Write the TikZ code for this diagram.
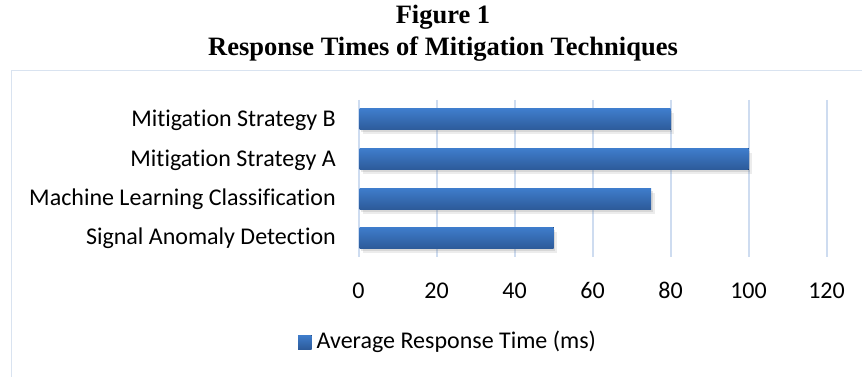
\documentclass[tikz,border=0pt]{standalone}
\usepackage{fontspec}
\setmainfont{Liberation Serif}
\newfontfamily\carlito[Ligatures=NoCommon]{Carlito}
\usepackage{xcolor}
\usetikzlibrary{shadows}
\definecolor{barTop}{HTML}{3F7DCC}
\definecolor{barBot}{HTML}{2D5B9A}
\definecolor{gridBlue}{HTML}{CEDCF0}
\definecolor{frameBlue}{HTML}{D9E3F0}

\begin{document}
\begin{tikzpicture}[x=1pt,y=-1pt,
  lbl/.style={font=\carlito\fontsize{24}{28}\selectfont,inner sep=0pt},
  ttl/.style={font=\bfseries\fontsize{26.5}{30}\selectfont,inner sep=0pt,anchor=base},
  bar/.style={top color=barTop,bottom color=barBot,
    drop shadow={opacity=0.15,shadow xshift=3.5pt,shadow yshift=-4.5pt},
    drop shadow={opacity=0.2,shadow xshift=1.5pt,shadow yshift=-2.5pt}}]
  \useasboundingbox (0,0) rectangle (862,377);
  \clip (0,0) rectangle (862,377);
  \draw[frameBlue,line width=1.5pt] (11.5,70.5) rectangle (890,400);
  % title
  \node[ttl] (fig) at (443,23.5) {Figure 1};
  \node[ttl] (head) at (443,56) {Response Times of Mitigation Techniques};
  % grid and ticks
  \foreach \v in {0,20,...,120} {
    \draw[gridBlue,line width=2pt] (358.5+3.9*\v,100) -- (358.5+3.9*\v,257);
    \node[lbl,anchor=base] (t\v) at (358.5+3.9*\v,298) {\v};
  }
  % bars
  \foreach \v/\y/\name [count=\i] in {80/119.5/Mitigation Strategy B,
      100/159/Mitigation Strategy A, 75/198.5/Machine Learning Classification,
      50/237.5/Signal Anomaly Detection} {
    \fill[bar] (359.5,\y-10.5) rectangle (358.5+3.9*\v,\y+10.5);
    \node[lbl,anchor=base east] (c\i) at (336,\y+7) {\name};
  }
  % legend
  \fill[top color=barTop,bottom color=barBot] (298,335) rectangle (311.5,349);
  \node[lbl,anchor=base west] (key) at (316.5,348) {Average Response Time (ms)};
\end{tikzpicture}
\end{document}
